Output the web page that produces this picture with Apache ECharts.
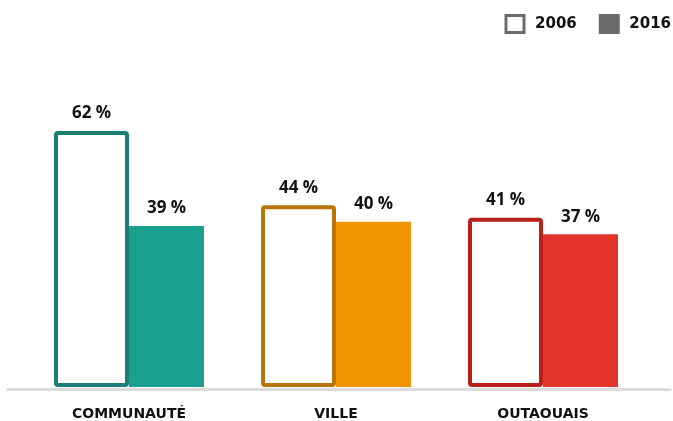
<!DOCTYPE html>
<html>
<head>
<meta charset="utf-8">
<script src="https://cdn.jsdelivr.net/npm/echarts@6/dist/echarts.min.js"></script>
<style>
  html, body { margin: 0; padding: 0; background: #fff; }
  #chart { width: 673px; height: 421px; }
</style>
</head>
<body>
<div id="chart"></div>
<script>
// Share of respondents per area, 2006 vs 2016
const categories = ['COMMUNAUTÉ', 'VILLE', 'OUTAOUAIS'];
const years = ['2006', '2016'];
const values2006 = [62, 44, 41];
const values2016 = [39, 40, 37];

// Per-area palette: outline tone for 2006, fill tone for 2016
const outlineColors = ['#1a7f72', '#b87503', '#b82019'];
const fillColors = ['#1ba08f', '#f09300', '#e3352b'];

const labelFont = '"Open Sans", sans-serif';
const capsFont = '"DejaVu Sans", sans-serif';

const chart = echarts.init(document.getElementById('chart'), null, { renderer: 'canvas' });

const valueLabel = {
  show: true,
  position: 'top',
  distance: 9,
  formatter: p => p.value + ' %',
  color: '#111',
  fontFamily: labelFont,
  fontWeight: 'bold',
  fontSize: 17
};

chart.setOption({
  animation: false,
  backgroundColor: '#fff',
  legend: {
    right: 2,
    top: 14,
    padding: 0,
    itemWidth: 18,
    itemHeight: 17,
    itemGap: 22,
    icon: 'rect',
    textStyle: { color: '#111', fontFamily: capsFont, fontWeight: 'bold', fontSize: 15, padding: [0, 0, 0, 6] },
    data: [
      { name: years[0], itemStyle: { color: '#fff', borderColor: '#6b6b6b', borderWidth: 3 } },
      { name: years[1], itemStyle: { color: '#6b6b6b', borderColor: '#6b6b6b', borderWidth: 3 } }
    ]
  },
  grid: [
    { left: 25.5, right: 26.5, top: 98, bottom: 33 },
    { left: 8, right: 3, top: 98, bottom: 32 }
  ],
  xAxis: [
    {
      type: 'category',
      gridIndex: 0,
      data: categories,
      axisLine: { show: false },
      axisTick: { show: false },
      axisLabel: {
        margin: 20,
        color: '#111',
        fontFamily: capsFont,
        fontWeight: 'bold',
        fontSize: 14
      }
    },
    {
      type: 'category',
      gridIndex: 1,
      data: [''],
      z: 5,
      axisLine: { show: true, lineStyle: { color: '#dcdcdc', width: 3 } },
      axisTick: { show: false },
      axisLabel: { show: false }
    }
  ],
  yAxis: [
    { type: 'value', gridIndex: 0, min: 0, max: 70, show: false },
    { type: 'value', gridIndex: 1, min: 0, max: 70, show: false }
  ],
  series: [
    {
      name: years[0],
      type: 'bar',
      xAxisIndex: 0,
      yAxisIndex: 0,
      barWidth: 75,
      barGap: '0%',
      z: 3,
      label: valueLabel,
      data: values2006.map((v, i) => ({
        value: v,
        itemStyle: { color: '#fff', borderColor: outlineColors[i], borderWidth: 4, borderRadius: 2 }
      }))
    },
    {
      name: years[1],
      type: 'bar',
      xAxisIndex: 0,
      yAxisIndex: 0,
      barWidth: 75,
      barGap: '0%',
      z: 2,
      label: valueLabel,
      data: values2016.map((v, i) => ({
        value: v,
        itemStyle: { color: fillColors[i] }
      }))
    }
  ]
});
</script>
</body>
</html>
